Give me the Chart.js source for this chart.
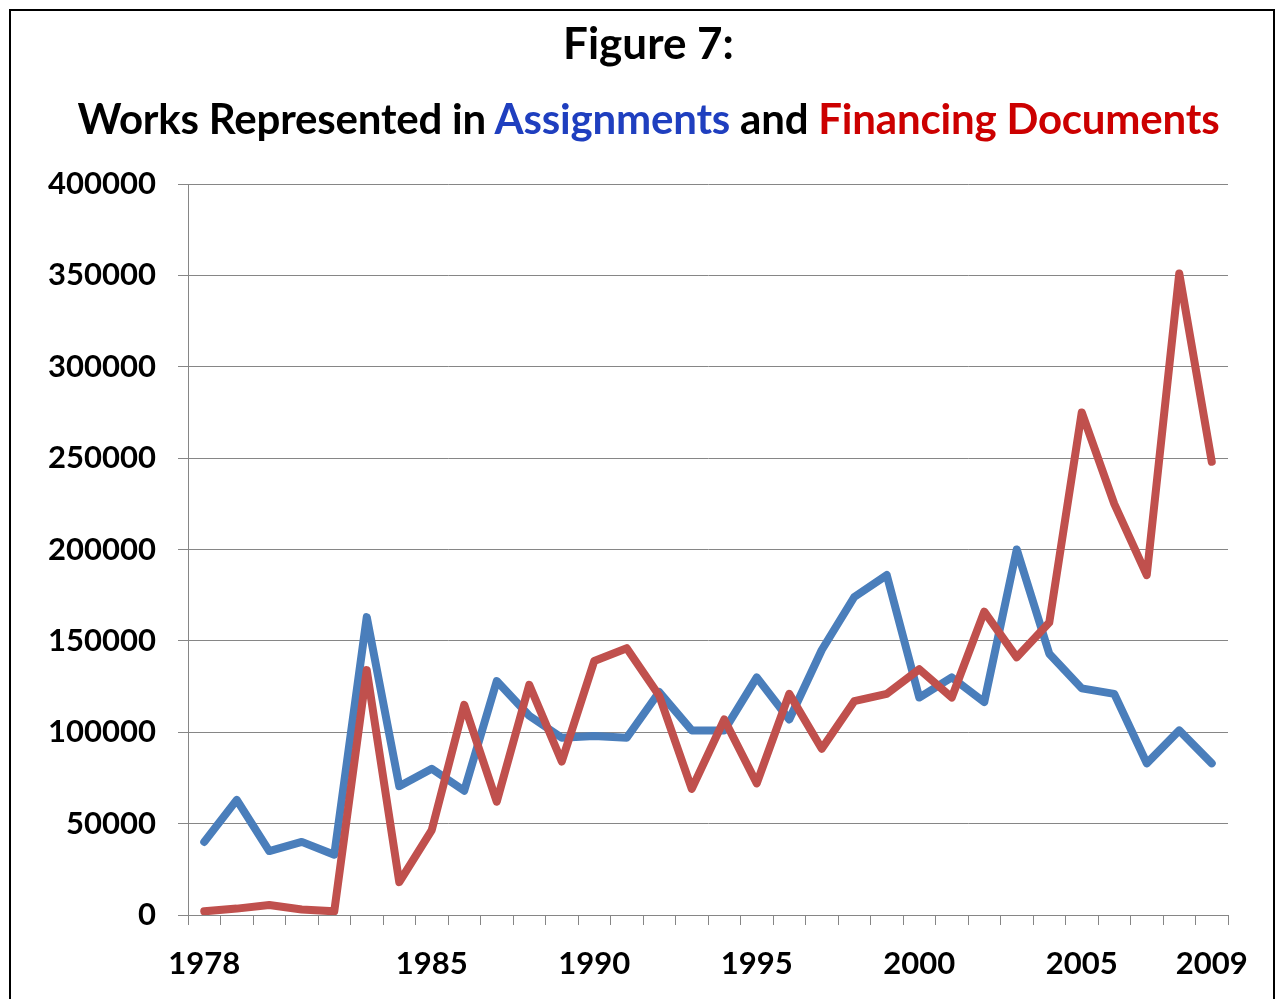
<!DOCTYPE html>
<html>
<head>
<meta charset="utf-8">
<script src="https://cdn.jsdelivr.net/npm/chart.js@4.4.0/dist/chart.umd.min.js"></script>
<style>
  body { margin: 0; background: #fff; }
  .frame { position: absolute; left: 9px; top: 9px; width: 1266px; height: 1010px; border: 2px solid #000; box-sizing: border-box; }
  .wrap { position: absolute; left: 0; top: 0; width: 1277px; height: 999px; }
  h1, h2 { position: absolute; left: 0; width: 1297px; margin: 0; text-align: center; font-family: Lato, sans-serif; font-weight: bold; color: #000; white-space: nowrap; }
  h1 { top: 16px; font-size: 44px; line-height: 52px; }
  h2 { top: 93px; font-size: 42px; line-height: 50px; letter-spacing: -0.2px; }
  .blue { color: #1f3fbf; }
  .red { color: #cc0000; }
</style>
</head>
<body>
<div class="frame"></div>
<div class="wrap"><canvas id="chart" width="1277" height="999"></canvas></div>
<h1>Figure 7:</h1>
<h2>Works Represented in <span class="blue">Assignments</span> and <span class="red">Financing Documents</span></h2>
<script>
// years on the x axis, only some of them get a label
const years = ['1978', '1979', '1980', '1981', '1982', '1983', '1984', '1985', '1986', '1987',
               '1988', '1989', '1990', '1991', '1992', '1993', '1994', '1995', '1996', '1997',
               '1998', '1999', '2000', '2001', '2002', '2003', '2004', '2005', '2006', '2007',
               '2008', '2009'];
const shownYears = ['1978', '1985', '1990', '1995', '2000', '2005', '2009'];

// works in recorded assignments
const assignments = [40000, 63000, 35000, 40000, 33000, 163000, 70500, 80000, 68000, 128000,
                     109000, 97000, 98000, 97000, 122000, 101000, 101000, 130000, 107000, 145000,
                     174000, 186000, 119000, 130000, 116500, 200000, 143000, 124000, 121000, 83000,
                     101000, 83000];

// works in financing documents
const financing = [2000, 3500, 5500, 3000, 2000, 134000, 18000, 46500, 115000, 62000,
                   126000, 84000, 139000, 146000, 120000, 69000, 107000, 72000, 121000, 91000,
                   117000, 121000, 134500, 119000, 166000, 141000, 160000, 275000, 225000, 186000,
                   351000, 248000];

const yMin = 0;
const yMax = 400000;
const yStep = 50000;

const gridColor = '#868686';
const tickFont = { family: 'Lato, sans-serif', size: 31, weight: 'bold' };

const ctx = document.getElementById('chart').getContext('2d');
new Chart(ctx, {
    type: 'line',
    data: {
        labels: years,
        datasets: [
            {
                label: 'Financing Documents',
                data: financing,
                borderColor: '#c0504d',
                borderWidth: 8,
                pointRadius: 0,
                tension: 0,
                borderJoinStyle: 'round',
                borderCapStyle: 'round',
                order: 0
            },
            {
                label: 'Assignments',
                data: assignments,
                borderColor: '#4a7ebb',
                borderWidth: 8,
                pointRadius: 0,
                tension: 0,
                borderJoinStyle: 'round',
                borderCapStyle: 'round',
                order: 1
            }
        ]
    },
    options: {
        responsive: false,
        animation: false,
        layout: { padding: { top: 184, right: 49, bottom: 0, left: 0 } },
        plugins: {
            legend: { display: false },
            tooltip: { enabled: false }
        },
        scales: {
            x: {
                offset: true,
                grid: {
                    offset: true,
                    drawOnChartArea: false,
                    color: gridColor,
                    tickLength: 10
                },
                border: { color: gridColor, width: 1 },
                ticks: {
                    autoSkip: false,
                    maxRotation: 0,
                    padding: 20,
                    color: '#000',
                    font: tickFont,
                    callback: function(value) {
                        const y = this.getLabelForValue(value);
                        return shownYears.includes(y) ? y : '';
                    }
                },
                afterFit: function(scale) { scale.height = 84; }
            },
            y: {
                min: yMin,
                max: yMax,
                grid: {
                    color: gridColor,
                    tickLength: 10
                },
                border: { color: gridColor, width: 1 },
                ticks: {
                    stepSize: yStep,
                    padding: 22,
                    color: '#000',
                    font: tickFont,
                    callback: function(value) { return String(value); }
                },
                afterFit: function(scale) { scale.width = 188; }
            }
        }
    }
});
</script>
</body>
</html>
